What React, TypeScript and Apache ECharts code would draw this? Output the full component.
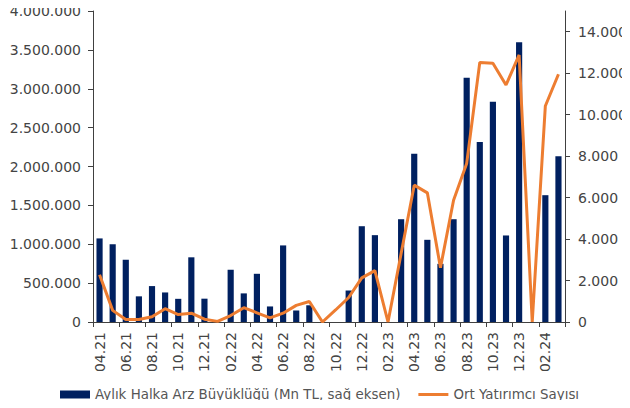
import React, { useEffect, useRef } from "react";
import * as echarts from "echarts";

const categories = [
  "04.21", "05.21", "06.21", "07.21", "08.21", "09.21", "10.21", "11.21", "12.21",
  "01.22", "02.22", "03.22", "04.22", "05.22", "06.22", "07.22", "08.22", "09.22", "10.22", "11.22", "12.22",
  "01.23", "02.23", "03.23", "04.23", "05.23", "06.23", "07.23", "08.23", "09.23", "10.23", "11.23", "12.23",
  "01.24", "02.24", "03.24",
];

const offeringSize = [
  1075000, 1000000, 800000, 330000, 462000, 380000, 298000, 832000, 300000,
  0, 672000, 368000, 620000, 200000, 985000, 148000, 215000, 0, 0, 405000, 1232000,
  1117000, 0, 1322000, 2163000, 1057000, 748000, 1322000, 3141000, 2316000, 2832000, 1113000, 3599000,
  0, 1631000, 2133000,
];

const avgInvestors = [
  2280, 560, 120, 120, 250, 640, 360, 425, 135,
  30, 310, 690, 445, 200, 425, 800, 990, 0, 580, 1180, 2130,
  2480, 0, 3300, 6600, 6230, 2620, 5870, 7650, 12520, 12480, 11430, 12880,
  0, 10420, 11950,
];

const barName = "Aylık Halka Arz Büyüklüğü (Mn TL, sağ eksen)";
const lineName = "Ort Yatırımcı Sayısı";

const fmt = (v: number) => String(Math.round(v)).replace(/\B(?=(\d{3})+(?!\d))/g, ".");

const FONT = "DejaVu Sans";
const TEXT = "#444444";
const AXIS = "#404040";

export default function App() {
  const ref = useRef<HTMLDivElement>(null);
  useEffect(() => {
    if (!ref.current) return;
    const chart = echarts.init(ref.current, null, { renderer: "svg" });
    chart.setOption({
      animation: false,
      backgroundColor: "#ffffff",
      grid: { left: 93, right: 61, top: 11, bottom: 86, containLabel: false },
      legend: {
        left: 55,
        top: 383,
        itemWidth: 30,
        itemHeight: 8,
        itemGap: 18,
        textStyle: { fontFamily: FONT, fontSize: 13.4, color: "#555555" },
        data: [
          { name: barName, icon: "rect" },
          { name: lineName, icon: "path://M0,0H30V3H0Z" },
        ],
      },
      xAxis: {
        type: "category",
        data: categories,
        axisLine: { lineStyle: { color: AXIS, width: 1 } },
        axisTick: { show: true, interval: 1, length: 5, lineStyle: { color: AXIS } },
        axisLabel: {
          interval: 1,
          rotate: 90,
          margin: 10,
          fontFamily: FONT,
          fontSize: 14,
          color: TEXT,
        },
        splitLine: { show: false },
      },
      yAxis: [
        {
          type: "value",
          min: 0,
          max: 4000000,
          interval: 500000,
          position: "left",
          axisLine: { show: true, lineStyle: { color: AXIS } },
          axisTick: { show: true, length: 5, lineStyle: { color: AXIS } },
          axisLabel: {
            margin: 12,
            fontFamily: FONT,
            fontSize: 14,
            color: TEXT,
            formatter: (v: number) => fmt(v),
          },
          splitLine: { show: false },
        },
        {
          type: "value",
          min: 0,
          max: 15000,
          interval: 2000,
          position: "right",
          axisLine: { show: true, lineStyle: { color: AXIS } },
          axisTick: { show: true, length: 5, lineStyle: { color: AXIS } },
          axisLabel: {
            margin: 13,
            showMaxLabel: false,
            fontFamily: FONT,
            fontSize: 14,
            color: TEXT,
            formatter: (v: number) => (v > 14000 ? "" : fmt(v)),
          },
          splitLine: { show: false },
        },
      ],
      series: [
        {
          name: barName,
          type: "bar",
          yAxisIndex: 0,
          data: offeringSize,
          barWidth: "47%",
          itemStyle: { color: "#002060" },
        },
        {
          name: lineName,
          type: "line",
          yAxisIndex: 1,
          data: avgInvestors,
          symbol: "none",
          showSymbol: false,
          lineStyle: { color: "#ED7D31", width: 3 },
          itemStyle: { color: "#ED7D31" },
        },
      ],
    });
    return () => chart.dispose();
  }, []);
  return <div ref={ref} style={{ width: 630, height: 408, margin: -8 }} />;
}
